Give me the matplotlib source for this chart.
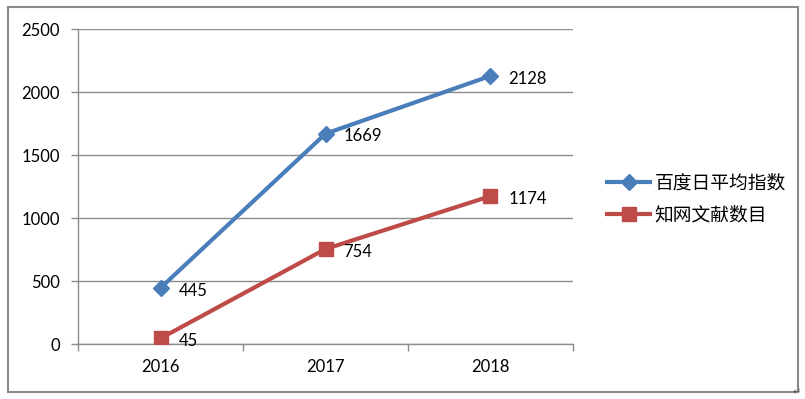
import matplotlib
matplotlib.use("Agg")
import matplotlib.pyplot as plt
from matplotlib.patches import Rectangle
from matplotlib.lines import Line2D

plt.rcParams['font.family'] = ['Lato', 'Noto Sans CJK SC', 'DejaVu Sans']

years = ["2016", "2017", "2018"]
baidu_index = [445, 1669, 2128]
cnki_count = [45, 754, 1174]
series_names = ["百度日平均指数", "知网文献数目"]

blue = "#4a7ebb"
red = "#be4b48"
grid_col = "#8c8c8c"

fig = plt.figure(figsize=(8.05, 3.99), dpi=100)
fig.patches.append(Rectangle((0.0099, 0.0175), 0.981, 0.965, transform=fig.transFigure,
                             fill=False, edgecolor="#8a8a8a", linewidth=1.5))
ax = fig.add_axes([0.0969, 0.1378, 0.6149, 0.7895])

x = list(range(len(years)))
ax.plot(x, baidu_index, color=blue, linewidth=3, marker="D", markersize=8,
        markerfacecolor=blue, markeredgecolor=blue, zorder=3)
ax.plot(x, cnki_count, color=red, linewidth=3, marker="s", markersize=10,
        markerfacecolor=red, markeredgecolor=red, zorder=3)

for xi, v in zip(x, baidu_index):
    ax.annotate(str(v), (xi, v), xytext=(13, -2), textcoords="offset points",
                va="center", ha="left", fontsize=12)
for xi, v in zip(x, cnki_count):
    ax.annotate(str(v), (xi, v), xytext=(13, -2), textcoords="offset points",
                va="center", ha="left", fontsize=12)

ax.set_xlim(-0.5, 2.5)
ax.set_ylim(0, 2500)
ax.set_yticks(range(0, 2501, 500))
ax.yaxis.grid(True, color=grid_col, linewidth=1)
ax.set_axisbelow(True)
ax.set_xticks(x)
ax.set_xticklabels(years)
ax.set_xticks([-0.5, 0.5, 1.5, 2.5], minor=True)
ax.tick_params(axis="x", which="major", length=0, pad=11, labelsize=12)
ax.tick_params(axis="x", which="minor", length=5, color=grid_col, width=1)
ax.tick_params(axis="y", length=5, color=grid_col, width=1, pad=8, labelsize=12)
for s in ["top", "right"]:
    ax.spines[s].set_visible(False)
for s in ["left", "bottom"]:
    ax.spines[s].set_color(grid_col)
    ax.spines[s].set_linewidth(1)

handles = [
    Line2D([], [], color=blue, linewidth=3, marker="D", markersize=8),
    Line2D([], [], color=red, linewidth=3, marker="s", markersize=10),
]
fig.legend(handles, series_names, loc="center left", bbox_to_anchor=(0.733, 0.502),
           frameon=False, handlelength=2.3, handletextpad=0.25,
           labelspacing=0.6, prop={'family': ['Noto Sans CJK SC'], 'size': 13.5})

fig.text(0.994, 0.005, "↵", fontsize=7, color="#555555", family="DejaVu Sans",
         ha="right", va="bottom")

fig.savefig("out.png", dpi=100)
